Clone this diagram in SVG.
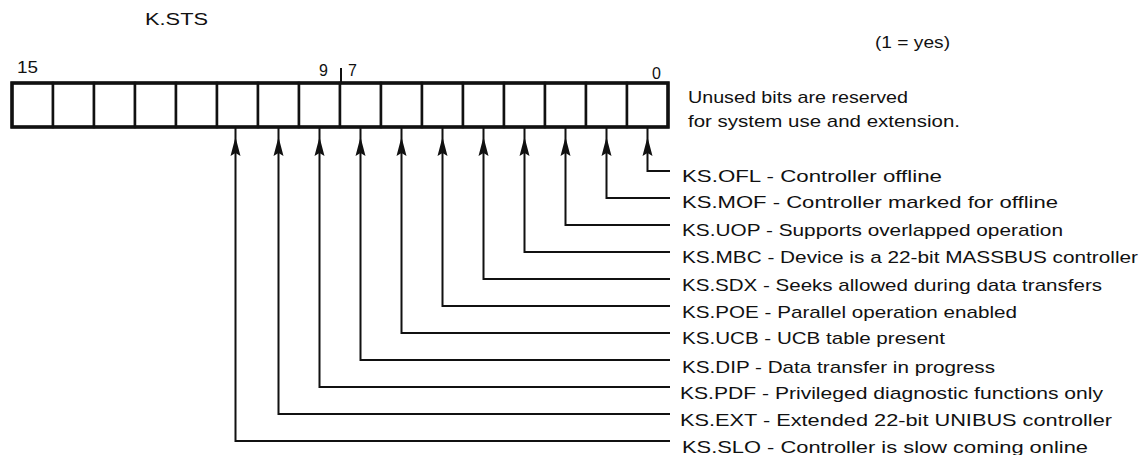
<svg xmlns="http://www.w3.org/2000/svg" width="1144" height="455" viewBox="0 0 1144 455">
<style>
text{font-family:"Liberation Sans",Arial,sans-serif;fill:#111}
.lbl{font-size:17px}
.num{font-size:16px}
.cell{fill:#fff;stroke:#111;stroke-width:2.5}
.frame{fill:none;stroke:#111;stroke-width:3.5}
.conn{fill:none;stroke:#111;stroke-width:2;marker-start:url(#ah)}
</style>
<defs>
<marker id="ah" markerUnits="userSpaceOnUse" orient="auto" refX="0" refY="0" markerWidth="30" markerHeight="12" viewBox="0 -6 30 12" overflow="visible">
<path d="M9 0 L28 -5 L25 0 L28 5 Z" fill="#111"/>
</marker>
</defs>
<g id="title"><text class="num" x="145" y="25" textLength="63" lengthAdjust="spacingAndGlyphs">K.STS</text></g>
<g id="legend"><text class="num" x="875" y="48" font-size="15" textLength="75" lengthAdjust="spacingAndGlyphs">(1 = yes)</text></g>
<g id="bitnums">
<text class="num" x="17" y="73" textLength="21" lengthAdjust="spacingAndGlyphs">15</text>
<text class="num" x="319" y="76">9</text>
<text class="num" x="348" y="76">7</text>
<text class="num" x="652" y="79">0</text>
<line x1="341" y1="68" x2="341" y2="83" stroke="#111" stroke-width="2"/>
</g>
<g id="register">
<rect class="cell" x="12" y="83" width="41" height="44"/>
<rect class="cell" x="53" y="83" width="41" height="44"/>
<rect class="cell" x="94" y="83" width="41" height="44"/>
<rect class="cell" x="135" y="83" width="41" height="44"/>
<rect class="cell" x="176" y="83" width="41" height="44"/>
<rect class="cell" x="217" y="83" width="41" height="44"/>
<rect class="cell" x="258" y="83" width="41" height="44"/>
<rect class="cell" x="299" y="83" width="41" height="44"/>
<rect class="cell" x="340" y="83" width="41" height="44"/>
<rect class="cell" x="381" y="83" width="41" height="44"/>
<rect class="cell" x="422" y="83" width="41" height="44"/>
<rect class="cell" x="463" y="83" width="41" height="44"/>
<rect class="cell" x="504" y="83" width="41" height="44"/>
<rect class="cell" x="545" y="83" width="41" height="44"/>
<rect class="cell" x="586" y="83" width="41" height="44"/>
<rect class="cell" x="627" y="83" width="41" height="44"/>
<rect class="frame" x="12" y="83" width="656" height="44"/>
</g>
<g id="unused-note">
<text class="lbl" x="688" y="103" textLength="220" lengthAdjust="spacingAndGlyphs">Unused bits are reserved</text>
<text class="lbl" x="688" y="127" textLength="272" lengthAdjust="spacingAndGlyphs">for system use and extension.</text>
</g>
<g id="connectors">
<path class="conn" d="M647.5 128 V171 H670"/>
<path class="conn" d="M606.5 128 V198 H670"/>
<path class="conn" d="M565.5 128 V225 H670"/>
<path class="conn" d="M524.5 128 V252 H670"/>
<path class="conn" d="M483.5 128 V279 H670"/>
<path class="conn" d="M442.5 128 V306 H670"/>
<path class="conn" d="M401.5 128 V333 H670"/>
<path class="conn" d="M360.5 128 V360 H670"/>
<path class="conn" d="M319.5 128 V387 H670"/>
<path class="conn" d="M278.5 128 V414 H670"/>
<path class="conn" d="M235.5 128 V441 H670"/>
</g>
<g id="ks-ofl"><text class="lbl" x="682" y="182" textLength="260" lengthAdjust="spacingAndGlyphs">KS.OFL - Controller offline</text></g>
<g id="ks-mof"><text class="lbl" x="682" y="208" textLength="376" lengthAdjust="spacingAndGlyphs">KS.MOF - Controller marked for offline</text></g>
<g id="ks-uop"><text class="lbl" x="682" y="236" textLength="381" lengthAdjust="spacingAndGlyphs">KS.UOP - Supports overlapped operation</text></g>
<g id="ks-mbc"><text class="lbl" x="682" y="263" textLength="456" lengthAdjust="spacingAndGlyphs">KS.MBC - Device is a 22-bit MASSBUS controller</text></g>
<g id="ks-sdx"><text class="lbl" x="682" y="291" textLength="420" lengthAdjust="spacingAndGlyphs">KS.SDX - Seeks allowed during data transfers</text></g>
<g id="ks-poe"><text class="lbl" x="682" y="318" textLength="335" lengthAdjust="spacingAndGlyphs">KS.POE - Parallel operation enabled</text></g>
<g id="ks-ucb"><text class="lbl" x="682" y="344" textLength="263" lengthAdjust="spacingAndGlyphs">KS.UCB - UCB table present</text></g>
<g id="ks-dip"><text class="lbl" x="682" y="373" textLength="313" lengthAdjust="spacingAndGlyphs">KS.DIP - Data transfer in progress</text></g>
<g id="ks-pdf"><text class="lbl" x="680" y="399" textLength="423" lengthAdjust="spacingAndGlyphs">KS.PDF - Privileged diagnostic functions only</text></g>
<g id="ks-ext"><text class="lbl" x="680" y="426" textLength="432" lengthAdjust="spacingAndGlyphs">KS.EXT - Extended 22-bit UNIBUS controller</text></g>
<g id="ks-slo"><text class="lbl" x="682" y="453" textLength="406" lengthAdjust="spacingAndGlyphs">KS.SLO - Controller is slow coming online</text></g>
</svg>
